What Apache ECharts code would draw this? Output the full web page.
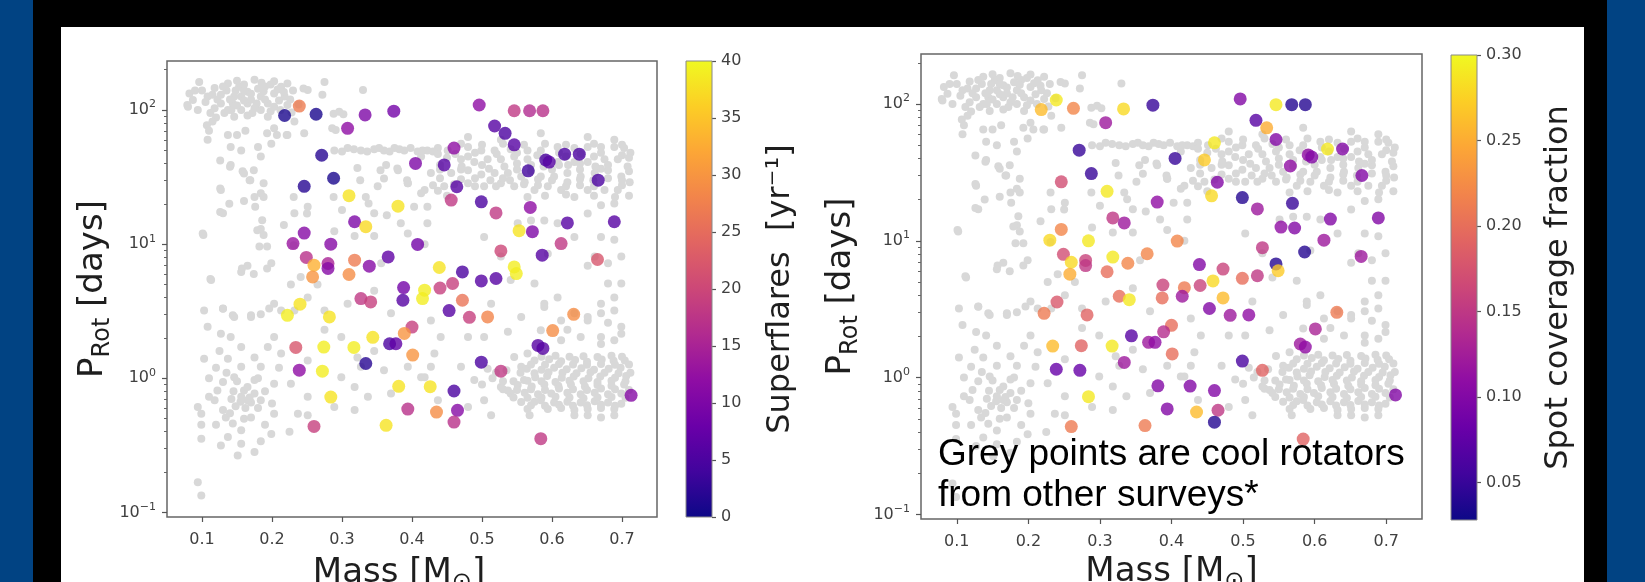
<!DOCTYPE html>
<html><head><meta charset="utf-8">
<script src="https://cdn.jsdelivr.net/npm/echarts@6/dist/echarts.min.js"></script>
<style>
html,body{margin:0;padding:0;background:#014383;overflow:hidden;}
#frame{position:absolute;left:33px;top:0;width:1574px;height:582px;background:#000;}
#panel{position:absolute;left:61px;top:27px;width:1523px;height:555px;background:#fff;}
#c{position:absolute;left:0;top:0;width:1645px;height:582px;}
</style></head><body>
<div id="frame"></div><div id="panel"></div><div id="c"></div>
<script>
// ---------- data ----------
const massTicks = [0.1,0.2,0.3,0.4,0.5,0.6,0.7];
const periodTicks = [0.1,1,10,100];
const periodMinorTicks = [0.2,0.3,0.4,0.5,0.6,0.7,0.8,0.9,2,3,4,5,6,7,8,9,20,30,40,50,60,70,80,90,200];
const flareTicks = [0,5,10,15,20,25,30,35,40];
const spotTicks = [0.05,0.10,0.15,0.20,0.25,0.30];
const flareRange = [0,40];
const spotRange = [0.028,0.30];

const starMass = [
0.218,0.239,0.263,0.308,0.333,0.374,0.271,0.405,0.288,0.246,
0.310,0.380,0.318,0.334,0.246,0.230,0.284,0.408,0.249,0.260,
0.280,0.280,0.318,0.339,0.366,0.258,0.310,0.439,0.388,0.387,
0.418,0.415,0.327,0.341,0.440,0.240,0.222,0.282,0.344,0.368,
0.377,0.400,0.389,0.234,0.274,0.317,0.401,0.334,0.239,0.272,
0.284,0.381,0.426,0.394,0.435,0.363,0.260,0.496,0.546,0.568,
0.587,0.518,0.533,0.546,0.460,0.446,0.591,0.596,0.618,0.639,
0.566,0.666,0.464,0.456,0.499,0.520,0.569,0.622,0.689,0.553,
0.572,0.613,0.527,0.586,0.665,0.472,0.546,0.549,0.499,0.520,
0.458,0.472,0.453,0.482,0.508,0.631,0.601,0.580,0.587,0.499,
0.527,0.460,0.465,0.460,0.584,0.713];
const starPeriod = [
91,107,93,73,92,98,46,40,31,27,
23,19.2,14.7,13.5,12.1,10.1,10,9.95,7.96,6.97,
7.18,6.59,7.6,6.85,8.04,5.7,5.94,6.7,4.75,3.82,
4.54,3.93,3.93,3.71,4.71,3.57,2.95,2.87,2.02,1.81,
1.81,2.41,2.16,1.70,1.71,1.70,1.49,1.29,1.15,1.13,
0.725,0.871,0.867,0.59,0.56,0.446,0.438,109,98.8,98.8,
98.8,76,67,55,52,39,42.4,40.9,46.9,46.9,
35.2,30,26.8,21.3,20.7,17.1,18.8,14.4,14.7,12.6,
12.4,10.1,8.9,8.28,7.69,6.21,6.77,6.04,5.32,5.55,
5.09,3.82,3.2,2.85,2.87,3.0,2.27,1.76,1.67,1.32,
1.13,0.804,0.577,0.472,0.355,0.747];
const flareRate = [
1,27,1,12,10,9,2,10,1,2,
38,38,10,37,11,13,11,9,17,33,
15,11,27,11,7,30,29,38,9,6,
39,39,18,19,19,38,39,38,38,5,
7,19,30,22,39,39,30,2,12,39,
38,38,38,17,29,38,19,12,18,16,
17,6,5,6,12,6,5,6,5,5,
4,5,6,18,5,18,12,6,6,38,
10,18,20,6,22,5,39,39,6,6,
19,26,6,19,28,29,29,6,6,5,
18,5,11,17,18,11];
const spotFraction = [
0.26,0.29,0.22,0.12,0.28,0.05,0.05,0.05,0.05,0.17,
0.29,0.11,0.15,0.12,0.22,0.28,0.29,0.22,0.17,0.28,
0.16,0.15,0.29,0.22,0.22,0.25,0.20,0.10,0.16,0.20,
0.21,0.12,0.20,0.29,0.16,0.18,0.21,0.19,0.07,0.12,
0.11,0.20,0.14,0.26,0.19,0.29,0.20,0.12,0.08,0.08,
0.29,0.10,0.10,0.10,0.26,0.21,0.21,0.10,0.29,0.04,
0.04,0.07,0.25,0.10,0.29,0.27,0.11,0.10,0.29,0.10,
0.11,0.10,0.10,0.28,0.04,0.12,0.05,0.10,0.10,0.11,
0.10,0.12,0.15,0.04,0.12,0.16,0.04,0.27,0.20,0.15,
0.28,0.26,0.10,0.12,0.11,0.21,0.13,0.12,0.11,0.06,
0.19,0.10,0.15,0.04,0.19,0.10];

// grey background stars [mass, period]
const greyStars = [
[0.096,162],[0.082,133],[0.087,119],[0.080,106],[0.094,100],[0.108,126],[0.118,146],[0.127,130],[0.137,158],[0.144,112],
[0.153,149],[0.156,126],[0.165,137],[0.175,168],[0.180,144],[0.184,126],[0.194,112],[0.203,133],[0.213,149],[0.222,158],
[0.203,164],[0.218,126],[0.118,103],[0.137,100],[0.156,100],[0.175,103],[0.194,89],[0.222,109],[0.127,112],[0.165,112],
[0.146,126],[0.184,100],[0.203,106],[0.165,91],[0.146,89],[0.251,141],[0.275,162],[0.272,130],[0.330,141],[0.296,97],
[0.291,71],[0.232,82],[0.245,145],[0.288,94],[0.302,93],[0.286,73],[0.221,65],[0.207,65],[0.193,67],[0.162,70],
[0.150,65],[0.107,77],[0.110,70],[0.079,109],[0.190,150],[0.170,120],[0.210,118],[0.135,140],[0.160,155],[0.228,96],
[0.100,140],[0.105,115],[0.112,95],[0.122,120],[0.130,150],[0.132,95],[0.140,120],[0.148,140],[0.150,108],[0.160,118],
[0.170,132],[0.172,95],[0.178,112],[0.188,138],[0.190,120],[0.198,98],[0.208,142],[0.212,100],[0.217,136],[0.226,120],
[0.160,140],[0.142,100],[0.120,88],[0.230,140],[0.238,110],[0.198,155],[0.115,130],[0.090,140],[0.185,160],[0.150,165],
[0.108,60],[0.115,82],[0.137,65],[0.141,53],[0.156,50],[0.180,53],[0.184,45],[0.199,56],[0.203,73],[0.222,65],
[0.246,67],[0.158,35],[0.141,39],[0.168,30],[0.175,22.5],[0.184,24],[0.160,21],[0.127,25.3],[0.139,20],[0.130,17],
[0.101,12],[0.184,13],[0.182,9.6],[0.165,6.9],[0.156,6.2],[0.199,7.2],[0.113,5.4],[0.130,3.3],[0.146,2.87],[0.170,2.87],
[0.203,3.6],[0.227,5.0],[0.241,5.7],[0.251,4.0],[0.265,5.0],[0.289,12.5],[0.232,17],[0.251,19],[0.126,42],[0.140,37.8],
[0.160,33.6],[0.174,35.6],[0.169,30],[0.188,28.4],[0.126,26],[0.126,17.4],[0.176,19],[0.188,22.5],[0.186,15.1],[0.179,12.7],
[0.217,13.9],[0.102,11.7],[0.188,11.7],[0.193,9.6],[0.157,6.6],[0.174,6.0],[0.112,5.5],[0.193,6.6],[0.231,9.8],[0.250,16.9],
[0.231,22.5],[0.288,22.5],
[0.289,50],[0.308,52],[0.327,50],[0.346,51],[0.360,50],[0.375,52],[0.389,50],[0.408,49],[0.422,50],[0.437,52],
[0.300,49],[0.317,51],[0.336,49],[0.353,52],[0.368,49],[0.382,51],[0.398,52],[0.415,50],[0.430,49],
[0.322,37],[0.363,39],[0.380,35.6],[0.394,28.4],[0.413,24],[0.422,19],[0.437,25],[0.351,27],[0.334,22.5],[0.346,17],
[0.300,18],[0.318,11.5],[0.346,11.5],[0.384,14.3],[0.356,7.2],[0.418,10],[0.346,4.5],[0.308,3.6],[0.370,3.05],[0.427,2.7],
[0.326,30],[0.355,35.6],[0.360,30.9],[0.379,36.7],[0.393,30],[0.338,20.1],[0.364,16.4],
[0.108,2.42],[0.130,3.31],[0.144,2.95],[0.170,2.95],[0.184,3.0],[0.196,3.31],[0.213,3.2],[0.127,2.15],[0.141,2.03],[0.156,1.71],
[0.137,1.40],[0.103,1.40],[0.175,1.43],[0.194,1.71],[0.203,2.03],[0.213,1.53],[0.184,1.22],[0.156,1.22],[0.146,1.02],[0.130,0.94],
[0.122,0.81],[0.110,0.73],[0.094,0.61],[0.099,0.545],[0.099,0.45],[0.099,0.355],[0.118,0.685],[0.130,0.58],[0.134,0.51],[0.144,0.46],
[0.156,0.41],[0.137,0.365],[0.127,0.316],[0.151,0.266],[0.156,0.325],[0.175,0.282],[0.184,0.34],[0.199,0.385],[0.203,0.545],[0.170,0.51],
[0.165,0.685],[0.184,0.685],[0.156,0.73],[0.160,0.81],[0.175,0.77],[0.203,0.91],[0.225,0.40],[0.237,0.545],[0.251,0.53],[0.165,0.86],
[0.175,0.97],[0.251,0.73],[0.227,0.91],[0.094,0.168],[0.099,0.134],[0.103,3.2],[0.232,3.2],[0.275,2.3],[0.299,1.02],[0.318,0.86],
[0.327,1.22],[0.337,0.73],[0.251,1.36],[0.275,3.2],[0.299,2.03],[0.322,1.43],[0.346,1.6],[0.360,1.15],[0.394,1.22],[0.418,1.02],
[0.370,0.77],[0.318,0.58],[0.289,0.61],[0.437,0.685],[0.148,0.62],[0.162,0.60],[0.170,0.66],[0.142,0.70],
[0.120,1.20],[0.135,1.10],[0.150,0.95],[0.145,0.80],[0.155,0.67],[0.168,0.72],[0.180,0.60],[0.190,0.80],[0.140,0.55],[0.160,0.50],
[0.190,0.45],[0.120,0.45],[0.110,1.00],[0.125,1.60],[0.180,1.00],[0.210,1.20],[0.200,0.65],
[0.451,50],[0.480,53],[0.499,50],[0.518,50],[0.541,51],[0.565,50],[0.584,50],[0.608,53],[0.632,52],[0.651,53],
[0.670,53],[0.689,53],[0.703,52],
[0.413,45],[0.437,47],[0.470,43],[0.489,41],[0.508,43],[0.527,43],[0.546,45],[0.565,43],[0.608,41],[0.632,41],
[0.651,41],[0.675,43],[0.694,43],
[0.427,34],[0.456,34],[0.480,35.6],[0.499,33],[0.518,34],[0.537,34],[0.556,32],[0.584,32],[0.603,32],[0.622,34],
[0.641,32],[0.661,34],[0.680,35.6],[0.699,32],
[0.394,28.4],[0.418,25.3],[0.446,27],[0.480,28.4],[0.503,27],[0.527,28.4],[0.546,27],[0.575,25.3],[0.594,27],[0.613,25.3],
[0.651,25.3],[0.675,25.3],[0.694,25.3],
[0.462,47],[0.521,47],[0.579,46],[0.641,47],[0.700,46],[0.471,38],[0.532,38],[0.588,38],[0.623,39],[0.662,38],
[0.708,38],[0.512,30],[0.561,29],[0.622,29],[0.659,30],[0.711,29],
[0.470,56],[0.500,55],[0.530,56],[0.560,55],[0.590,56],[0.620,55],[0.660,56],[0.700,55],
[0.490,48],[0.550,48],[0.610,48],[0.670,48],[0.712,48],
[0.450,44],[0.480,45],[0.590,44],[0.620,45],[0.660,45],[0.710,44],
[0.440,39],[0.500,39],[0.550,40],[0.570,39],[0.610,39],[0.640,40],[0.680,39],
[0.440,36],[0.470,36],[0.510,36.5],[0.550,36],[0.570,35],[0.600,36],[0.640,36],[0.670,36.5],[0.710,35],
[0.440,31],[0.470,30.5],[0.490,31],[0.530,31],[0.540,30],[0.580,30.5],[0.600,30],[0.640,30.5],[0.680,31],[0.700,30],
[0.430,27.5],[0.460,28],[0.490,27],[0.520,27],[0.560,28],[0.580,27.5],[0.620,27],[0.640,27.5],[0.660,27],[0.700,27.5],
[0.450,23],[0.590,23],[0.620,23.5],[0.660,23],[0.690,22.5],[0.710,23],
[0.632,22.5],[0.565,22.5],[0.689,20.1],[0.670,19.5],[0.651,16.9],[0.670,11.3],[0.689,10.8],[0.699,8.1],[0.680,7.2],[0.661,8.1],
[0.632,11.3],[0.608,14.3],[0.589,15],[0.570,15],[0.551,14.3],[0.651,6.9],[0.680,5.1],[0.699,5.1],[0.689,4.0],[0.670,3.6],
[0.575,5.1],[0.589,3.6],[0.608,4.0],[0.622,2.3],[0.651,2.87],[0.680,2.6],[0.699,2.15],[0.670,1.8],[0.594,8.5],[0.403,19],
[0.422,14.3],[0.394,12],[0.503,11.3],[0.527,8.1],[0.541,5.4],[0.513,3.6],[0.556,2.87],[0.480,63],[0.527,60],[0.584,67],
[0.651,63],[0.689,60],
[0.589,3.4],[0.613,2.7],[0.632,3.05],[0.651,2.7],[0.670,3.05],[0.689,3.2],[0.699,2.42],[0.670,2.03],[0.689,1.92],[0.641,2.03],
[0.613,1.92],[0.584,2.28],[0.565,1.53],[0.537,2.22],[0.503,2.03],[0.480,2.03],[0.441,2.03],[0.427,1.22],[0.470,1.22],[0.508,1.18],
[0.527,0.86],[0.560,0.97],[0.513,0.53],[0.568,0.53],[0.632,0.53],[0.651,0.53],[0.670,0.51],[0.689,0.53],[0.699,0.645],[0.599,0.77],
[0.584,0.685],[0.556,1.22],[0.546,1.44],
[0.575,1.36],[0.596,1.39],[0.613,1.34],[0.633,1.37],[0.650,1.33],[0.671,1.38],[0.688,1.35],[0.704,1.36],
[0.564,1.18],[0.585,1.16],[0.603,1.20],[0.621,1.17],[0.642,1.19],[0.660,1.16],[0.681,1.18],[0.698,1.20],
[0.576,1.02],[0.593,1.04],[0.614,1.01],[0.631,1.03],[0.652,1.00],[0.669,1.03],[0.690,1.01],[0.706,1.04],
[0.551,0.89],[0.571,0.87],[0.589,0.90],[0.609,0.88],[0.627,0.90],[0.647,0.87],[0.665,0.89],[0.685,0.88],[0.703,0.90],
[0.541,0.77],[0.561,0.78],[0.580,0.76],[0.622,0.78],[0.641,0.76],[0.661,0.78],[0.680,0.76],[0.699,0.77],
[0.556,0.665],[0.575,0.67],[0.603,0.66],[0.622,0.67],[0.641,0.66],[0.661,0.675],[0.680,0.66],
[0.565,0.59],[0.594,0.59],[0.613,0.60],[0.632,0.58],[0.651,0.59],[0.670,0.60],[0.689,0.59],
[0.585,1.45],[0.605,1.47],[0.625,1.45],[0.645,1.46],[0.665,1.44],[0.685,1.47],[0.700,1.45],
[0.570,1.27],[0.590,1.26],[0.610,1.28],[0.630,1.27],[0.650,1.26],[0.670,1.28],[0.690,1.26],[0.710,1.27],
[0.555,1.10],[0.575,1.09],[0.595,1.11],[0.615,1.10],[0.635,1.09],[0.655,1.11],[0.675,1.10],[0.695,1.09],[0.712,1.10],
[0.545,0.95],[0.565,0.96],[0.585,0.95],[0.605,0.94],[0.625,0.96],[0.645,0.95],[0.665,0.94],[0.685,0.96],[0.705,0.95],
[0.530,0.83],[0.550,0.82],[0.570,0.83],[0.590,0.82],[0.610,0.84],[0.630,0.83],[0.650,0.82],[0.670,0.84],[0.690,0.83],[0.710,0.82],
[0.545,0.72],[0.565,0.715],[0.585,0.72],[0.605,0.73],[0.625,0.72],[0.645,0.71],[0.665,0.72],[0.685,0.725],[0.705,0.715],
[0.570,0.63],[0.590,0.625],[0.610,0.635],[0.630,0.625],[0.650,0.63],[0.670,0.635],[0.690,0.625],
[0.515,1.00],[0.530,0.95],[0.520,1.10],[0.535,1.15],[0.500,0.90],
[0.432,1.53],[0.413,1.02],[0.489,0.97],[0.503,0.685],[0.537,0.81],[0.480,0.61]
];

// ---------- styling helpers ----------
const plasma = ['#0d0887','#41049d','#6a00a8','#8f0da4','#b12a90','#cc4778','#e16462','#f2844b','#fca636','#fcce25','#f0f921'];
const FONT = 'DejaVu Sans';
const TICK_COLOR = '#404040';
const TITLE_COLOR = '#1e1e1e';
const stars = starMass.map((m, i) => [m, starPeriod[i], flareRate[i], spotFraction[i]]);

function logLabel(v) {
  const e = Math.round(Math.log10(v));
  return '{b|10}{s|' + (e < 0 ? '\u2212' + (-e) : e) + '}';
}
const logRich = {
  b: {fontFamily: FONT, fontSize: 16, color: TICK_COLOR, lineHeight: 22},
  s: {fontFamily: FONT, fontSize: 11, color: TICK_COLOR, lineHeight: 12, verticalAlign: 'top'}
};
const nameRich = {
  a: {fontFamily: FONT, fontSize: 34, color: TITLE_COLOR, lineHeight: 44},
  b: {fontFamily: FONT, fontSize: 24, color: TITLE_COLOR, lineHeight: 24, verticalAlign: 'bottom'}
};
const tickLine = {color: '#555', width: 1.2};
const tickText = {fontFamily: FONT, fontSize: 16, color: TICK_COLOR};

function massAxis(gridIndex, gap, shiftPad) {
  return {
    gridIndex, type: 'value', min: 0.05, max: 0.75,
    axisLine: {show: false, onZero: false}, splitLine: {show: false},
    axisTick: {show: true, customValues: massTicks, length: 5, lineStyle: tickLine},
    axisLabel: Object.assign({customValues: massTicks, margin: 15, formatter: v => v.toFixed(1)}, tickText),
    name: '{a|Mass [M}{b|\u2299}{a|]}', nameLocation: 'middle', nameGap: gap,
    nameTextStyle: {rich: nameRich, padding: [0, shiftPad, 0, 0]}
  };
}
function periodAxis(gridIndex, gap) {
  return {
    gridIndex, type: 'log', logBase: 10, min: 0.0925, max: 232, position: 'left',
    axisLine: {show: false, onZero: false}, splitLine: {show: false},
    axisTick: {show: true, customValues: periodTicks, length: 5, lineStyle: tickLine},
    axisLabel: {customValues: periodTicks, margin: 11, formatter: logLabel, rich: logRich},
    name: '{a|P}{b|Rot}{a| [days]}', nameLocation: 'middle', nameGap: gap,
    nameTextStyle: {rich: nameRich}
  };
}
function periodMinorAxis(gridIndex) {
  return {
    gridIndex, type: 'log', logBase: 10, min: 0.0925, max: 232, position: 'left', offset: 0,
    axisLine: {show: false, onZero: false}, splitLine: {show: false},
    axisTick: {show: true, customValues: periodMinorTicks, length: 3, lineStyle: {color: '#666', width: 1}},
    axisLabel: {show: false}
  };
}
function barAxis(gridIndex, range, ticks, digits, name, gap) {
  return {
    gridIndex, type: 'value', min: range[0], max: range[1], position: 'right',
    axisLine: {show: false, onZero: false}, splitLine: {show: false},
    axisTick: {show: true, customValues: ticks, length: 4, lineStyle: tickLine},
    axisLabel: Object.assign({customValues: ticks, margin: 9, formatter: v => v.toFixed(digits)}, tickText),
    name, nameLocation: 'middle', nameGap: gap,
    nameTextStyle: {fontFamily: FONT, fontSize: 32, color: TITLE_COLOR}
  };
}
const barStops = plasma.map((c, i) => ({offset: i / 10, color: c}));
function colorbarItem(params, api) {
  const lo = api.coord([0, api.value(0)]);
  const hi = api.coord([1, api.value(1)]);
  return {
    type: 'rect',
    shape: {x: lo[0], y: hi[1], width: hi[0] - lo[0], height: lo[1] - hi[1]},
    style: {fill: {type: 'linear', x: 0, y: 1, x2: 0, y2: 0, colorStops: barStops}, stroke: '#888', lineWidth: 1}
  };
}
const gridStyle = {show: true, borderColor: '#666', borderWidth: 1.5, backgroundColor: 'transparent', outerBoundsMode: 'none', containLabel: false};

const option = {
  backgroundColor: 'transparent',
  animation: false,
  grid: [
    Object.assign({left: 167, top: 61, width: 490, height: 456}, gridStyle),
    Object.assign({left: 921, top: 54, width: 501, height: 465}, gridStyle),
    {left: 686, top: 61, width: 26, height: 456, outerBoundsMode: 'none', containLabel: false},
    {left: 1451, top: 55, width: 26, height: 465, outerBoundsMode: 'none', containLabel: false}
  ],
  xAxis: [
    massAxis(0, 34, 26),
    massAxis(1, 31, 0),
    {gridIndex: 2, type: 'value', min: 0, max: 1, show: false},
    {gridIndex: 3, type: 'value', min: 0, max: 1, show: false}
  ],
  yAxis: [
    periodAxis(0, 52),
    periodMinorAxis(0),
    periodAxis(1, 58),
    periodMinorAxis(1),
    barAxis(2, flareRange, flareTicks, 0, 'Superflares  [yr\u207B\u00B9]', 53),
    barAxis(3, spotRange, spotTicks, 2, 'Spot coverage fraction', 66)
  ],
  visualMap: [
    {type: 'continuous', show: false, seriesIndex: 1, dimension: 2, min: flareRange[0], max: flareRange[1], inRange: {color: plasma}},
    {type: 'continuous', show: false, seriesIndex: 3, dimension: 3, min: spotRange[0], max: spotRange[1], inRange: {color: plasma}}
  ],
  series: [
    {type: 'scatter', xAxisIndex: 0, yAxisIndex: 0, data: greyStars, symbolSize: 8, itemStyle: {color: '#d8d8d8', opacity: 1}, z: 2, silent: true},
    {type: 'scatter', xAxisIndex: 0, yAxisIndex: 0, data: stars, symbolSize: 13, z: 3, silent: true},
    {type: 'scatter', xAxisIndex: 1, yAxisIndex: 2, data: greyStars, symbolSize: 8, itemStyle: {color: '#d8d8d8', opacity: 1}, z: 2, silent: true},
    {type: 'scatter', xAxisIndex: 1, yAxisIndex: 2, data: stars, symbolSize: 13, z: 3, silent: true},
    {type: 'custom', xAxisIndex: 2, yAxisIndex: 4, data: [flareRange], renderItem: colorbarItem, silent: true},
    {type: 'custom', xAxisIndex: 3, yAxisIndex: 5, data: [spotRange], renderItem: colorbarItem, silent: true}
  ],
  graphic: [
    {type: 'text', z: 100, silent: true, style: {text: 'g', x: 923, y: -18, verticalAlign: 'bottom', font: 'bold 64px "Liberation Sans"', fill: '#fff'}},
    {type: 'text', z: 100, silent: true, style: {text: 'p', x: 1067, y: -18, verticalAlign: 'bottom', font: 'bold 64px "Liberation Sans"', fill: '#fff'}},
    {type: 'text', z: 100, silent: true, style: {
      text: 'Grey points are cool rotators\nfrom other surveys*', x: 938, y: 434,
      verticalAlign: 'top', lineHeight: 41, font: '37px "Liberation Sans"', fill: '#000'}}
  ]
};
const chart = echarts.init(document.getElementById('c'), null, {renderer: 'canvas'});
chart.setOption(option);
</script>
</body></html>
